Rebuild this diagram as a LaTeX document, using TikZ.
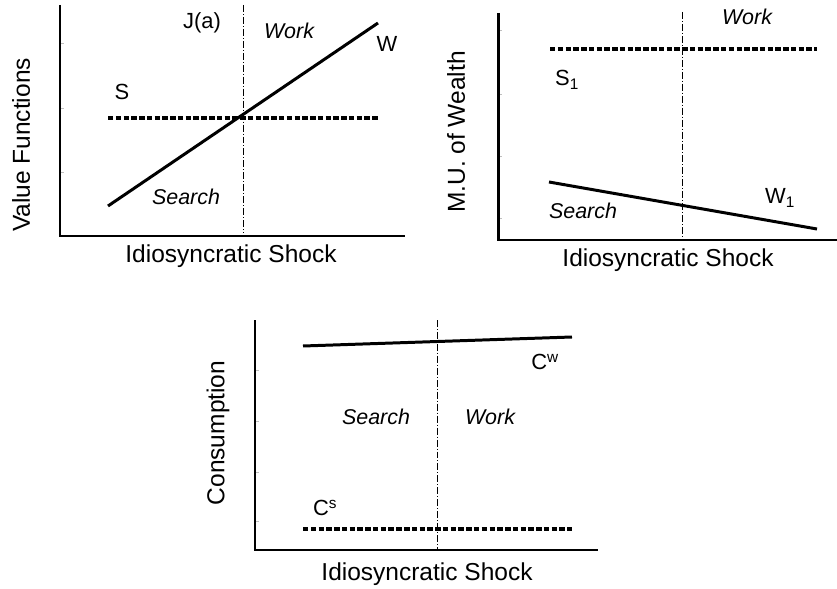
\documentclass[tikz,border=0pt]{standalone}
\usepackage{fontspec}
\setmainfont{Liberation Sans}
\tikzset{
  axis/.style={black, line width=3pt},
  curve/.style={black, line width=3pt},
  dotcurve/.style={black, line width=4pt, dash pattern=on 5.5pt off 2.3pt},
  cutoff/.style={black, line width=0.9pt, dash pattern=on 7pt off 2pt on 1pt off 2pt},
  faint/.style={gray!50, line width=0.8pt},
  lab/.style={font=\fontsize{22}{26}\selectfont, inner sep=0pt},
  ilab/.style={font=\fontsize{21.5}{26}\selectfont\itshape, inner sep=0pt},
  axlab/.style={font=\fontsize{24.6}{28}\selectfont, inner sep=0pt}
}
\begin{document}
\begin{tikzpicture}[x=1bp, y=-1bp]
            \useasboundingbox (0,0) rectangle (837,589);
            % value functions
            \foreach \t in {43,108,172} \draw[faint] (60,\t) -- (64,\t);
            \draw[axis] (60,5) -- (60,236) -- (405,236);
            \draw[cutoff] (243,5) -- (243,233);
            \draw[dotcurve] (108,118) -- (378,118);
            \draw[curve] (108,206) -- (378,23);
            \node[lab] (ja) at (202,23) {J(a)};
            \node[ilab] (work1) at (289,31) {Work};
            \node[lab] (w) at (387,44) {W};
            \node[lab] (s) at (122,92) {S};
            \node[ilab] (search1) at (186,197) {Search};
            \node[axlab] (xlab1) at (231,256) {Idiosyncratic Shock};
            \node[axlab, rotate=90] (ylab1) at (21,145) {Value Functions};

            % marginal utility
            \foreach \t in {30,94,156,218} \draw[faint] (498,\t) -- (502,\t);
            \draw[axis] (498,13) -- (498,240) -- (837,240);
            \draw[cutoff] (682,12) -- (682,238);
            \draw[dotcurve] (550,49) -- (817,49);
            \draw[curve] (549,182) -- (817,229);
            \node[ilab] (work2) at (747,17) {Work};
            \node[lab] (s1) at (567,80) {S\textsubscript{1}};
            \node[lab] (w1) at (780,198) {W\textsubscript{1}};
            \node[ilab] (search2) at (583,211) {Search};
            \node[axlab] (xlab2) at (668,260) {Idiosyncratic Shock};
            \node[axlab, rotate=90] (ylab2) at (456,132) {M.U. of Wealth};

            % consumption
            \foreach \t in {370,421,472,521} \draw[faint] (255,\t) -- (259,\t);
            \draw[axis] (255,320) -- (255,550) -- (598,550);
            \draw[cutoff] (437,320) -- (437,550);
            \draw[dotcurve] (303,529) -- (572,529);
            \draw[curve] (303,346) -- (572,337);
            \node[lab] (cw) at (545,362) {C\textsuperscript{w}};
            \node[lab] (cs) at (325,508) {C\textsuperscript{s}};
            \node[ilab] (search3) at (376,417) {Search};
            \node[ilab] (work3) at (490,417) {Work};
            \node[axlab] (xlab3) at (427,574) {Idiosyncratic Shock};
            \node[axlab, rotate=90] (ylab3) at (218,433) {Consumption};
\end{tikzpicture}
\end{document}
